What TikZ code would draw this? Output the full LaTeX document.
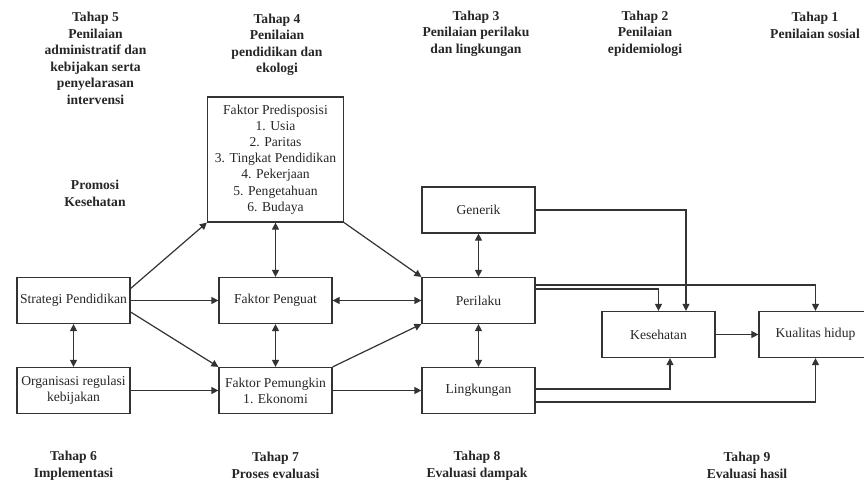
\documentclass[tikz,border=0pt]{standalone}
\usepackage{fontspec}
\setmainfont{Liberation Serif}
\usetikzlibrary{arrows.meta,calc}

\begin{document}
\begin{tikzpicture}[x=0.5pt,y=-0.5pt,
    kotak/.style={draw=black!80,line width=0.6pt,minimum width=56.5pt,minimum height=23pt,
      align=center,inner sep=1pt,text=black!85,font=\fontsize{6.8}{8.1}\selectfont},
    tahap/.style={align=center,inner sep=0pt,text=black!85,font=\fontsize{6.8}{8.25}\selectfont\bfseries},
    panah/.style={draw=black!80,line width=0.6pt,-{Triangle[length=3.5pt,width=3.5pt]}},
    dua/.style={draw=black!80,line width=0.6pt,{Triangle[length=3.5pt,width=3.5pt]}-{Triangle[length=3.5pt,width=3.5pt]}}]
  \useasboundingbox (0,0) rectangle (864,483);

  % judul tahap
  \node[tahap] (t5) at (95.5,58.5) {Tahap 5\\Penilaian\\administratif dan\\kebijakan serta\\penyelarasan\\intervensi};
  \node[tahap] (t4) at (277,45) {Tahap 4\\Penilaian\\pendidikan dan\\ekologi};
  \node[tahap] (t3) at (476,33.5) {Tahap 3\\Penilaian perilaku\\dan lingkungan};
  \node[tahap] (t2) at (645,33.5) {Tahap 2\\Penilaian\\epidemiologi};
  \node[tahap] (t1) at (815,25.5) {Tahap 1\\Penilaian sosial};
  \node[tahap] (promosi) at (95,193.5) {Promosi\\Kesehatan};
  \node[tahap] (t6) at (73.5,465.5) {Tahap 6\\Implementasi};
  \node[tahap] (t7) at (275.5,465.5) {Tahap 7\\Proses evaluasi};
  \node[tahap] (t8) at (477,465.5) {Tahap 8\\Evaluasi dampak};
  \node[tahap] (t9) at (747,465.5) {Tahap 9\\Evaluasi hasil};

  % kotak
  \node[kotak,minimum width=68pt,minimum height=62.5pt] (pred) at (275.5,159.5)
    {Faktor Predisposisi\\1. Usia\\2. Paritas\\3. Tingkat Pendidikan\\4. Pekerjaan\\5. Pengetahuan\\6. Budaya};
  \node[kotak] (strat) at (73.5,300.5) {Strategi Pendidikan};
  \node[kotak] (peng) at (275.5,300.5) {Faktor Penguat};
  \node[kotak] (org) at (73.5,390.5) {Organisasi regulasi\\kebijakan};
  \node[kotak] (pem) at (275.5,390.5) {Faktor Pemungkin\\1. Ekonomi};
  \node[kotak] (gen) at (478.5,210) {Generik};
  \node[kotak] (per) at (478.5,300.5) {Perilaku};
  \node[kotak] (ling) at (478.5,390.5) {Lingkungan};
  \node[kotak] (kes) at (658.5,334.5) {Kesehatan};
  \node[kotak] (kual) at (815.5,334.5) {Kualitas hidup};

  % panah
  \draw[panah] ($(strat.east)+(0,-12)$) -- (pred.south west);
  \draw[panah] (strat.east) -- (peng.west);
  \draw[panah] ($(strat.east)+(0,11.5)$) -- (pem.north west);
  \draw[panah] (org.east) -- (pem.west);
  \draw[dua] (strat.south) -- (org.north);
  \draw[dua] (pred.south) -- (peng.north);
  \draw[dua] (peng.south) -- (pem.north);
  \draw[panah] (pred.south east) -- (per.north west);
  \draw[dua] (peng.east) -- (per.west);
  \draw[panah] (pem.north east) -- (per.south west);
  \draw[panah] (pem.east) -- (ling.west);
  \draw[dua] (gen.south) -- (per.north);
  \draw[dua] (per.south) -- (ling.north);
  \draw[panah] (gen.east) -| ($(kes.north)+(27.5,0)$);
  \draw[panah] ($(per.east)+(0,-15.5)$) -| (kual.north);
  \draw[panah] ($(per.east)+(0,-11.5)$) -| (kes.north);
  \draw[panah] (kes.east) -- (kual.west);
  \draw[panah] ($(ling.east)+(0,-1.5)$) -| ($(kes.south)+(11.5,0)$);
  \draw[panah] ($(ling.east)+(0,11.5)$) -| (kual.south);
\end{tikzpicture}
\end{document}
